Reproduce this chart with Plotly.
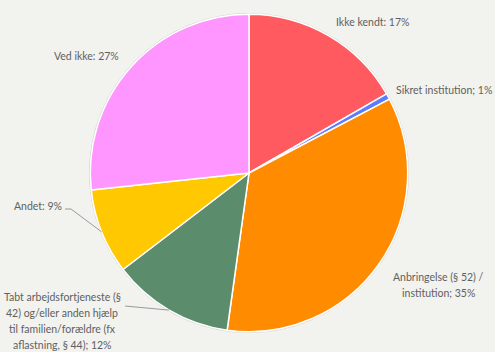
import math
import plotly.graph_objects as go

# Slice data (share of respondents, %)
labels = [
    "Ikke kendt",
    "Sikret institution",
    "Anbringelse (§ 52) /<br>institution",
    "Tabt arbejdsfortjeneste (§<br>42) og/eller anden hjælp<br>til familien/forældre (fx<br>aflastning, § 44)",
    "Andet",
    "Ved ikke",
]
values = [16.7, 0.6, 34.9, 12.4, 8.7, 26.7]
separators = [":", ";", ";", ";", ":", ":"]
colors = ["#ff5a5f", "#5b7cff", "#ff8c00", "#5b8c6b", "#ffc800", "#ff96ff"]

W, H = 495, 352
BG = "#f2f2ee"
TEXT = "#5f5f5f"
LINE_GAP = 16.3

# pie geometry in pixels
cx, cy, r = 249.0, 173.0, 158.7
dom_x = [(cx - r) / W, (cx + r) / W]
dom_y = [1 - (cy + r) / H, 1 - (cy - r) / H]


def to_paper(x, y):
    return x / W, 1 - y / H


def edge_point(i):
    total = sum(values)
    start = sum(values[:i]) / total
    mid = (start + values[i] / total / 2) * 2 * math.pi
    return cx + r * math.sin(mid), cy - r * math.cos(mid)


fig = go.Figure(
    go.Pie(
        labels=labels,
        values=values,
        sort=False,
        direction="clockwise",
        rotation=0,
        textinfo="none",
        hoverinfo="label+percent",
        marker=dict(colors=colors, line=dict(color="white", width=1.5)),
        domain=dict(x=dom_x, y=dom_y),
        showlegend=False,
    )
)

# label anchor positions (pixels) and horizontal anchoring
label_pos = [(372, 22), (494, 90), (438, 285), (62, 321), (38, 206), (86, 56)]
label_anchor = ["center", "right", "center", "center", "center", "center"]

total = sum(values)
annotations = []
for lab, v, sep, (lx, ly), anc in zip(labels, values, separators, label_pos, label_anchor):
    pct = round(v / total * 100)
    lines = f"{lab}{sep} {pct}%".split("<br>")
    n = len(lines)
    for k, line in enumerate(lines):
        px, py = to_paper(lx, ly + (k - (n - 1) / 2) * LINE_GAP)
        annotations.append(
            dict(
                x=px, y=py, xref="paper", yref="paper",
                text=line,
                showarrow=False, xanchor=anc, yanchor="middle",
                font=dict(family="Lato, sans-serif", size=10.5, color=TEXT),
            )
        )

shapes = []
# faint outer ring
x0, y0 = to_paper(cx - r - 0.8, cy + r + 0.8)
x1, y1 = to_paper(cx + r + 0.8, cy - r - 0.8)
shapes.append(dict(type="circle", xref="paper", yref="paper", x0=x0, y0=y0, x1=x1, y1=y1,
                   line=dict(color="#d2d2cc", width=1), layer="below"))

# leader lines for the two left-hand labels
ex, ey = edge_point(4)
shapes.append(dict(type="path", xref="paper", yref="paper",
                   path="M {} {} L {} {} L {} {}".format(*to_paper(65, 209), *to_paper(71, 209), *to_paper(ex, ey)),
                   line=dict(color="#9a9a9a", width=1)))
ex, ey = edge_point(3)
shapes.append(dict(type="path", xref="paper", yref="paper",
                   path="M {} {} L {} {}".format(*to_paper(125, 306), *to_paper(ex, ey)),
                   line=dict(color="#9a9a9a", width=1)))

fig.update_layout(
    width=W, height=H,
    margin=dict(l=0, r=0, t=0, b=0),
    paper_bgcolor=BG, plot_bgcolor=BG,
    annotations=annotations,
    shapes=shapes,
)

fig.write_html("out.html")
